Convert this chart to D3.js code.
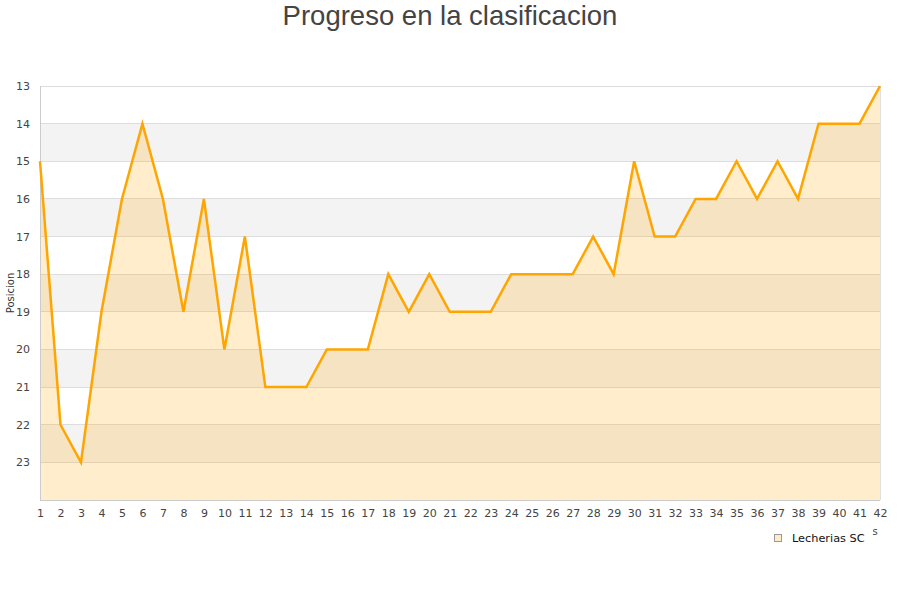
<!DOCTYPE html>
<html><head><meta charset="utf-8">
<script src="https://cdn.jsdelivr.net/npm/d3@7"></script>
<style>body{margin:0;background:#fff}svg{display:block}</style>
</head><body>
<svg id="c" width="900" height="600"></svg>
<script>
const title = "Progreso en la clasificacion";
const yTitle = "Posicion";
const seriesName = "Lecherias SC";
const jornadas = d3.range(1, 43);
const posiciones = [15,22,23,19,16,14,16,19,16,20,17,21,21,21,20,20,20,18,19,18,19,19,19,18,18,18,18,17,18,15,17,17,16,16,15,16,15,16,14,14,14,13];
const yTicks = [13,14,15,16,17,18,19,20,21,22,23];
const yDomain = [13, 24];

const svg = d3.select("#c");
const m = {l:40, r:20, t:86, b:100};
const W = 900, H = 600;
const x = d3.scaleLinear().domain([1, 42]).range([m.l, W - m.r]);
const y = d3.scaleLinear().domain(yDomain).range([m.t, H - m.b]);
const font = "DejaVu Sans, sans-serif";

// bands
const bands = d3.range(yDomain[0], yDomain[1]);
svg.append("g").selectAll("rect").data(bands).join("rect")
  .attr("x", m.l).attr("width", x(42) - m.l)
  .attr("y", d => y(d)).attr("height", d => y(d + 1) - y(d))
  .attr("fill", d => (d % 2 === 0) ? "#f3f3f3" : "#ffffff");

// grid
svg.append("g").selectAll("line").data(d3.range(yDomain[0], yDomain[1] + 1)).join("line")
  .attr("x1", m.l).attr("x2", x(42))
  .attr("y1", d => y(d)).attr("y2", d => y(d))
  .attr("stroke", "#dddddd").attr("stroke-width", 1).attr("shape-rendering", "crispEdges");

const data = jornadas.map((j, i) => ({j, p: posiciones[i]}));

svg.append("path").datum(data)
  .attr("d", d3.area().x(d => x(d.j)).y0(y(yDomain[1])).y1(d => y(d.p)))
  .attr("fill", "#ffa500").attr("fill-opacity", 0.2);

// axes border
svg.append("line").attr("x1", m.l).attr("x2", m.l).attr("y1", m.t).attr("y2", y(24))
  .attr("stroke", "#cccccc").attr("shape-rendering", "crispEdges");
svg.append("line").attr("x1", x(42)).attr("x2", x(42)).attr("y1", m.t).attr("y2", y(24))
  .attr("stroke", "#e0e0e0").attr("shape-rendering", "crispEdges");
svg.append("line").attr("x1", m.l).attr("x2", x(42)).attr("y1", y(24)).attr("y2", y(24))
  .attr("stroke", "#cccccc").attr("shape-rendering", "crispEdges");

svg.append("path").datum(data)
  .attr("d", d3.line().x(d => x(d.j)).y(d => y(d.p)))
  .attr("fill", "none").attr("stroke", "#ffa500").attr("stroke-width", 2.5)
  .attr("stroke-linejoin", "miter");

// y labels
const yAxis = svg.append("g").attr("transform", `translate(${m.l},0)`)
  .call(d3.axisLeft(y).tickValues(yTicks).tickSize(0).tickPadding(10).tickFormat(d3.format("d")));
yAxis.select(".domain").remove();
yAxis.selectAll("text").attr("font-family", font).attr("font-size", 11).attr("fill", "#444");

// x labels
const xAxis = svg.append("g").attr("transform", `translate(0,${y(24)})`)
  .call(d3.axisBottom(x).tickValues(jornadas).tickSize(0).tickPadding(9).tickFormat(d3.format("d")));
xAxis.select(".domain").remove();
xAxis.selectAll("text").attr("font-family", font).attr("font-size", 11).attr("fill", "#444");

// title
svg.append("text").attr("x", 450).attr("y", 25).attr("text-anchor", "middle")
  .attr("font-family", "Liberation Sans, Arial, sans-serif").attr("font-size", 27.5)
  .attr("fill", "#444").text(title);

// y title
svg.append("text").attr("transform", "translate(14,293) rotate(-90)").attr("text-anchor", "middle")
  .attr("font-family", font).attr("font-size", 10).attr("fill", "#333").text(yTitle);

// stray x title remnant
svg.append("text").attr("x", 875).attr("y", 535).attr("text-anchor", "middle")
  .attr("font-family", font).attr("font-size", 10).attr("fill", "#444").text("s");

// legend
svg.append("rect").attr("x", 774.5).attr("y", 534.5).attr("width", 7).attr("height", 7)
  .attr("fill", "#ffebc8").attr("stroke", "#999").attr("stroke-width", 1);
svg.append("text").attr("x", 792).attr("y", 542)
  .attr("font-family", font).attr("font-size", 11.3).attr("fill", "#111").text(seriesName);
</script>
</body></html>
